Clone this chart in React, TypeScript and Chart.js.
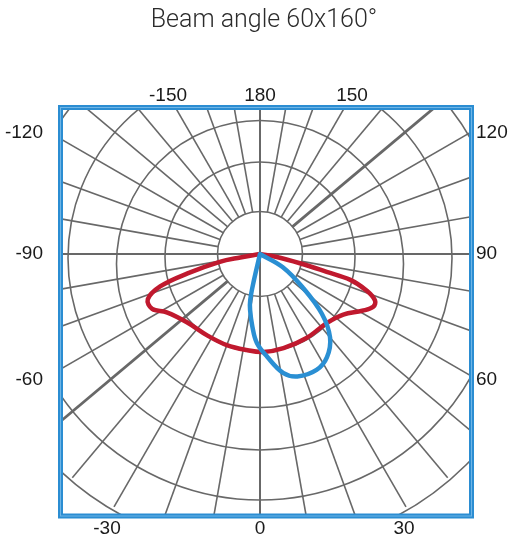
import React, { useEffect, useRef } from "react";
import { Chart, registerables } from "chart.js";

Chart.register(...registerables);

const TITLE = "Beam angle 60x160°";

// Polar photometric data: angle (deg, 0 = straight down, + toward right), intensity
const BLUE_ANGLES = [-20, -13, -12, -10, -6, -2, 4, 11, 17, 26, 33, 40, 46, 52, 60, 70];
const BLUE_VALUES = [0, 27, 47, 57, 73, 89, 103, 121, 128, 129, 123, 109, 86, 54, 26, 0];

const RED_ANGLES = [-90, -80, -79, -75, -72, -68, -63, -58, -47, -33, -20, -8, 2, 14, 29, 44, 54, 61, 65, 68, 71, 74, 75, 77, 80, 90];
const RED_VALUES = [0, 20, 41, 75, 105, 121, 121, 110, 100, 97, 97, 97, 98, 97, 96, 96, 103, 117, 125, 124, 113, 94, 69, 41, 17, 0];

// Grid rings (intensity values)
const RING_VALUES = [42.5, 95, 143.5, 192, 242, 292];
const SPOKE_ANGLES = [
  -170, -160, -150, -140, -130, -120, -110, -100, -80, -70, -60, -50, -40, -30, -20, -10,
  10, 20, 30, 40, 50, 60, 70, 80, 100, 110, 120, 130, 140, 150, 160, 170,
];
const HEAVY_SPOKES = [130, -50];

// Angle tick labels
const TOP_LABELS = ["-150", "180", "150"];
const LEFT_LABELS = ["-120", "-90", "-60"];
const RIGHT_LABELS = ["120", "90", "60"];
const BOTTOM_LABELS = ["-30", "0", "30"];

const toXY = (angles: number[], values: number[]) =>
  angles.map((a, i) => {
    const t = (a * Math.PI) / 180;
    return { x: values[i] * Math.sin(t), y: -values[i] * Math.cos(t) };
  });

const GRID = "#686868";
const BORDER = "#2b8dd2";
// slight downward drift of the printed rings (drawing style of the original)
const RING_SHIFT = [0, 3, 10, 4, 4, 4];

const polarPlugin = {
  id: "polarGrid",
  beforeDatasetsDraw(chart: any) {
    const { ctx, chartArea, scales } = chart;
    const xs = scales.x;
    const ys = scales.y;
    const cx = xs.getPixelForValue(0);
    const cy = ys.getPixelForValue(0);
    const u = xs.getPixelForValue(1) - cx;
    ctx.save();
    ctx.beginPath();
    ctx.rect(chartArea.left - 2, chartArea.top - 2, chartArea.right - chartArea.left + 4, chartArea.bottom - chartArea.top + 4);
    ctx.clip();
    ctx.strokeStyle = GRID;
    ctx.lineWidth = 1.6;
    RING_VALUES.forEach((r, i) => {
      ctx.beginPath();
      ctx.arc(cx, cy + RING_SHIFT[i] * u, r * u, 0, Math.PI * 2);
      ctx.stroke();
    });
    const r0 = RING_VALUES[0] * u;
    const r1 = RING_VALUES[RING_VALUES.length - 1] * u;
    SPOKE_ANGLES.forEach((a) => {
      const t = (a * Math.PI) / 180;
      const sx = Math.sin(t);
      const sy = Math.cos(t);
      const heavy = HEAVY_SPOKES.includes(a);
      ctx.lineWidth = heavy ? 2.8 : 1.6;
      ctx.beginPath();
      ctx.moveTo(cx + sx * r0, cy + sy * r0);
      const end = heavy ? r1 * 1.5 : r1;
      ctx.lineTo(cx + sx * end, cy + sy * end);
      ctx.stroke();
    });
    // main axes
    ctx.lineWidth = 2;
    ctx.beginPath();
    ctx.moveTo(chartArea.left - 4, cy);
    ctx.lineTo(chartArea.right + 4, cy);
    ctx.moveTo(cx, chartArea.top - 4);
    ctx.lineTo(cx, chartArea.bottom + 4);
    ctx.stroke();
    ctx.restore();
  },
  afterDatasetsDraw(chart: any) {
    const { ctx, chartArea, scales } = chart;
    const cx = scales.x.getPixelForValue(0);
    const cy = scales.y.getPixelForValue(0);
    ctx.save();
    // frame
    ctx.strokeStyle = BORDER;
    ctx.lineWidth = 5;
    ctx.strokeRect(chartArea.left - 2.5, chartArea.top - 3.5, chartArea.right - chartArea.left + 5, chartArea.bottom - chartArea.top + 5.5);
    ctx.strokeStyle = "#6fb5e6";
    ctx.lineWidth = 1;
    ctx.strokeRect(chartArea.left - 2.5, chartArea.top - 3.5, chartArea.right - chartArea.left + 5, chartArea.bottom - chartArea.top + 5.5);

    // title
    ctx.fillStyle = "#2b2b2b";
    ctx.font = "300 25px Roboto";
    ctx.textAlign = "center";
    ctx.textBaseline = "alphabetic";
    ctx.fillText(TITLE, cx + 4, 27);

    // angle labels
    ctx.fillStyle = "#1a1a1a";
    ctx.font = "19px 'Liberation Sans', Arial, sans-serif";
    ctx.textBaseline = "middle";
    const topDx = [-92, 0, 92];
    TOP_LABELS.forEach((s, i) => ctx.fillText(s, cx + topDx[i], 96));
    const botDx = [-153, 0, 144];
    BOTTOM_LABELS.forEach((s, i) => ctx.fillText(s, cx + botDx[i], 529));
    const sideDy = [-121, 0, 126];
    ctx.textAlign = "right";
    LEFT_LABELS.forEach((s, i) => ctx.fillText(s, 43, cy + sideDy[i]));
    ctx.textAlign = "left";
    RIGHT_LABELS.forEach((s, i) => ctx.fillText(s, 476, cy + sideDy[i]));
    ctx.restore();
  },
};

export default function App() {
  const ref = useRef<HTMLCanvasElement | null>(null);
  useEffect(() => {
    if (!ref.current) return;
    const chart = new Chart(ref.current, {
      type: "scatter",
      data: {
        datasets: [
          {
            label: "C90-C270",
            data: toXY(BLUE_ANGLES, BLUE_VALUES),
            showLine: true,
            borderColor: "#2a8fd3",
            borderWidth: 4.5,
            pointRadius: 0,
            tension: 0.38,
            fill: false,
            borderCapStyle: "round",
            borderJoinStyle: "round",
          },
          {
            label: "C0-C180",
            data: toXY(RED_ANGLES, RED_VALUES),
            showLine: true,
            borderColor: "#c0192e",
            borderWidth: 4.5,
            pointRadius: 0,
            tension: 0.38,
            fill: false,
            borderCapStyle: "round",
            borderJoinStyle: "round",
          },
        ],
      },
      options: {
        responsive: false,
        animation: false,
        devicePixelRatio: 1,
        events: [],
        layout: { padding: { left: 63, right: 40, top: 111, bottom: 27 } },
        scales: {
          x: { type: "linear", min: -197, max: 209, display: false },
          y: { type: "linear", min: -260, max: 143, display: false },
        },
        plugins: {
          legend: { display: false },
          tooltip: { enabled: false },
          title: { display: false },
        },
      } as any,
      plugins: [polarPlugin],
    });
    return () => chart.destroy();
  }, []);
  return (
    <div style={{ position: "fixed", left: 0, top: 0, width: 509, height: 541, background: "#fff" }}>
      <canvas ref={ref} width={509} height={541} style={{ width: 509, height: 541, display: "block" }} />
    </div>
  );
}
